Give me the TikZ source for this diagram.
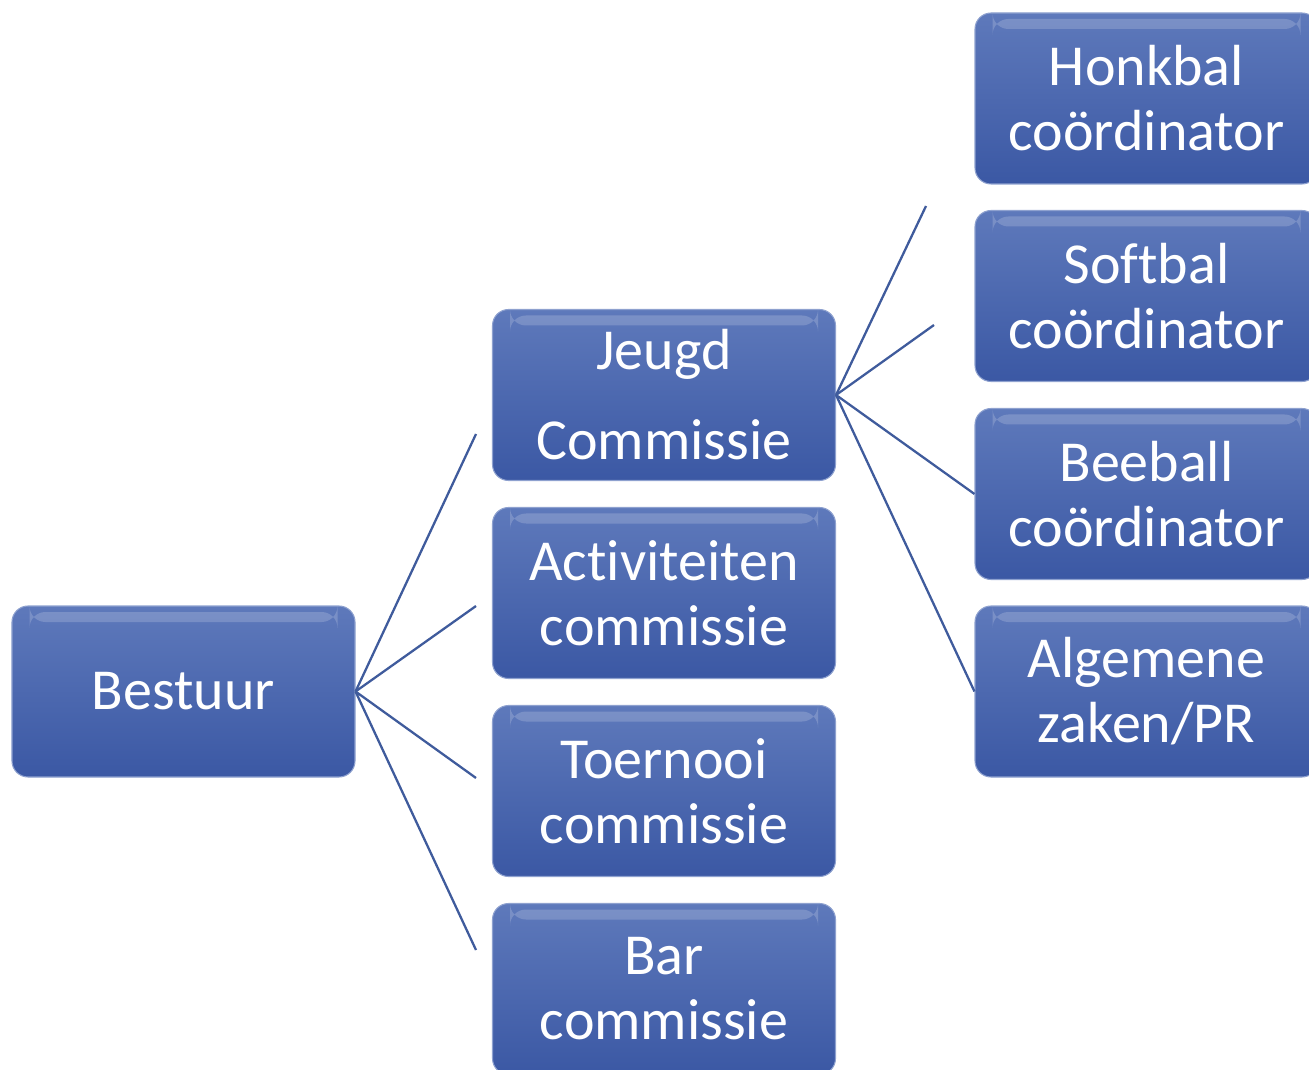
\documentclass[tikz,border=0pt]{standalone}
\usepackage{fontspec}
\setmainfont{Carlito}[Ligatures={NoCommon,NoContextual}]
\definecolor{boxtop}{HTML}{5E79BB}
\definecolor{boxbot}{HTML}{3B58A4}
\definecolor{linkblue}{HTML}{3F5B9C}
\begin{document}
\begin{tikzpicture}[
            unit/.style={rectangle, rounded corners=0.32cm,
                top color=boxtop, bottom color=boxbot, draw=boxtop!70!white, line width=0.6pt,
                minimum width=6.86cm, minimum height=3.42cm, text width=6.6cm,
                align=center, inner sep=0pt, text=white,
                font=\fontsize{33}{37}\selectfont,
                path picture={\fill[white,opacity=0.18]
                    ([xshift=0.35cm,yshift=-0.12cm]path picture bounding box.north west) rectangle
                    ([xshift=-0.35cm,yshift=-0.32cm]path picture bounding box.north east);}},
            link/.style={draw=linkblue, line width=1.3pt}
        ]
        \useasboundingbox (0,0) rectangle (26.18,-21.4);
        \clip (0,0) rectangle (26.18,-21.4);
        % first level
        \node[unit] (bestuur) at (3.67,-13.83) {Bestuur};
        % commissies
        \node[unit] (jeugd) at (13.28,-7.9) {Jeugd\\[0.5cm]Commissie};
        \node[unit] (activ) at (13.28,-11.86) {Activiteiten\\commissie};
        \node[unit] (toernooi) at (13.28,-15.82) {Toernooi\\commissie};
        \node[unit] (bar) at (13.28,-19.78) {Bar\\commissie};
        % coordinatoren
        \node[unit] (honkbal) at (22.93,-1.97) {Honkbal\\coördinator};
        \node[unit] (softbal) at (22.93,-5.92) {Softbal\\coördinator};
        \node[unit] (beeball) at (22.93,-9.88) {Beeball\\coördinator};
        \node[unit] (algemeen) at (22.93,-13.83) {Algemene\\zaken/PR};
        % loose ends of the connectors
        \coordinate (b1) at (9.52,-8.68);
        \coordinate (b2) at (9.52,-12.12);
        \coordinate (b3) at (9.52,-15.56);
        \coordinate (b4) at (9.52,-19.0);
        \coordinate (j1) at (18.52,-4.12);
        \coordinate (j2) at (18.68,-6.5);
        \foreach \e in {b1,b2,b3,b4}
            \draw[link] (bestuur.east) -- (\e);
        \draw[link] (jeugd.east) -- (j1);
        \draw[link] (jeugd.east) -- (j2);
        \draw[link] (jeugd.east) -- (beeball.west);
        \draw[link] (jeugd.east) -- (algemeen.west);
    \end{tikzpicture}
\end{document}
